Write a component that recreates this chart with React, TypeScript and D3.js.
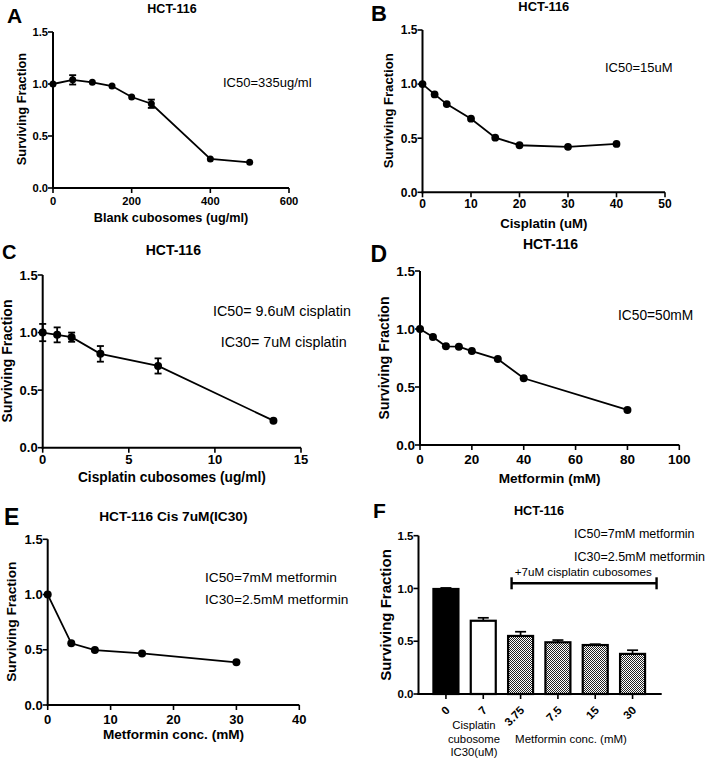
import React from 'react';
import * as d3 from 'd3';

const FONT = "'Liberation Sans', Arial, Helvetica, sans-serif";

// shared y ticks
const yTickVals = [0, 0.5, 1.0, 1.5];

// Panel A
const aDose = [0, 50, 100, 150, 200, 250, 400, 500];
const aSurv = [1.0, 1.04, 1.016, 0.98, 0.875, 0.81, 0.279, 0.247];
const aErr = [0.01, 0.045, 0.028, 0.012, 0.015, 0.04, 0.012, 0.01];
const aTicks = [0, 200, 400, 600];

// Panel B
const bDose = [0, 2.5, 5, 10, 15, 20, 30, 40];
const bSurv = [1.0, 0.905, 0.815, 0.68, 0.505, 0.435, 0.42, 0.447];
const bTicks = [0, 10, 20, 30, 40, 50];

// Panel C
const cDose = [0, 0.84, 1.68, 3.35, 6.7, 13.4];
const cSurv = [1.0, 0.98, 0.96, 0.815, 0.71, 0.235];
const cErr = [0.075, 0.065, 0.04, 0.068, 0.066, 0.033];
const cTicks = [0, 5, 10, 15];

// Panel D
const dDose = [0, 5, 10, 15, 20, 30, 40, 80];
const dSurv = [1.0, 0.931, 0.851, 0.848, 0.81, 0.741, 0.575, 0.302];
const dTicks = [0, 20, 40, 60, 80, 100];

// Panel E
const eDose = [0, 3.75, 7.5, 15, 30];
const eSurv = [1.0, 0.558, 0.497, 0.467, 0.386];
const eTicks = [0, 10, 20, 30, 40];

// Panel F
const fCats = ['0', '7', '3.75', '7.5', '15', '30'];
const fSurv = [0.995, 0.694, 0.55, 0.49, 0.464, 0.38];
const fErr = [0.01, 0.028, 0.04, 0.021, 0.008, 0.035];
const fFill = ['black', 'white', 'check', 'check', 'check', 'check'];

type Annot = { text: string; x: number; y: number; size: number; anchor?: string };

type LineProps = {
  xs: number[];
  ys: number[];
  errs?: number[];
  xMax: number;
  xTicks: number[];
  x0: number;
  x1: number;
  y0: number;
  y1: number;
  tickSize: number;
  xTickY: number;
  xLabel: string;
  xLabelY: number;
  xLabelSize: number;
  yLabelX: number;
  yLabelY: number;
  yLabelSize: number;
  title: string;
  titleX: number;
  titleY: number;
  titleSize: number;
  letter: string;
  letterX: number;
  letterY: number;
  letterSize: number;
  annots: Annot[];
  r: number;
};

const fmtY = d3.format('.1f');
const AX_W = 2;

function YAxis({ x0, y, tickSize }: { x0: number; y: d3.ScaleLinear<number, number>; tickSize: number }) {
  return (
    <g>
      <line x1={x0} x2={x0} y1={y(0) + 1} y2={y(1.5)} stroke="#000" strokeWidth={AX_W} />
      {yTickVals.map((v) => (
        <g key={v}>
          <line x1={x0 - 5} x2={x0} y1={y(v)} y2={y(v)} stroke="#000" strokeWidth={1.6} />
          <text
            x={x0 - 5}
            y={y(v)}
            dy="0.36em"
            textAnchor="end"
            fontWeight="bold"
            fontSize={tickSize}
            fontFamily={FONT}
          >
            {fmtY(v)}
          </text>
        </g>
      ))}
    </g>
  );
}

function LinePanel(p: LineProps) {
  const x = d3.scaleLinear().domain([0, p.xMax]).range([p.x0, p.x1]);
  const y = d3.scaleLinear().domain([0, 1.5]).range([p.y0, p.y1]);
  const line = d3
    .line<number>()
    .x((_, i) => x(p.xs[i]))
    .y((d) => y(d));
  const pxPerUnit = p.y0 - y(1);
  return (
    <g>
      <text x={p.letterX} y={p.letterY} fontSize={p.letterSize} fontWeight="bold" fontFamily={FONT}>
        {p.letter}
      </text>
      <text x={p.titleX} y={p.titleY} fontSize={p.titleSize} fontWeight="bold" textAnchor="middle" fontFamily={FONT}>
        {p.title}
      </text>
      <YAxis x0={p.x0} y={y} tickSize={p.tickSize} />
      <line x1={p.x0 - 1} x2={p.x1} y1={p.y0} y2={p.y0} stroke="#000" strokeWidth={AX_W} />
      {p.xTicks.map((t) => (
        <g key={t}>
          <line x1={x(t)} x2={x(t)} y1={p.y0} y2={p.y0 + 5} stroke="#000" strokeWidth={1.6} />
          <text x={x(t)} y={p.xTickY} textAnchor="middle" fontWeight="bold" fontSize={p.tickSize} fontFamily={FONT}>
            {t}
          </text>
        </g>
      ))}
      <text
        x={(p.x0 + p.x1) / 2}
        y={p.xLabelY}
        textAnchor="middle"
        fontWeight="bold"
        fontSize={p.xLabelSize}
        fontFamily={FONT}
      >
        {p.xLabel}
      </text>
      <text
        transform={`translate(${p.yLabelX},${p.yLabelY}) rotate(-90)`}
        textAnchor="middle"
        fontWeight="bold"
        fontSize={p.yLabelSize}
        fontFamily={FONT}
      >
        Surviving Fraction
      </text>
      <path d={line(p.ys) || ''} fill="none" stroke="#000" strokeWidth={1.8} />
      {p.errs &&
        p.errs.map((e, i) => {
          if (e * pxPerUnit <= p.r + 0.5) return null;
          const cx = x(p.xs[i]);
          const top = y(p.ys[i] + e);
          const bot = y(p.ys[i] - e);
          return (
            <g key={i} stroke="#000" strokeWidth={1.8}>
              <line x1={cx} x2={cx} y1={top} y2={bot} />
              <line x1={cx - 3.5} x2={cx + 3.5} y1={top} y2={top} />
              <line x1={cx - 3.5} x2={cx + 3.5} y1={bot} y2={bot} />
            </g>
          );
        })}
      {p.ys.map((v, i) => (
        <circle key={i} cx={x(p.xs[i])} cy={y(v)} r={p.r} fill="#000" />
      ))}
      {p.annots.map((a, i) => (
        <text
          key={i}
          x={a.x}
          y={a.y}
          fontSize={a.size}
          textAnchor={a.anchor || 'start'}
          fontFamily={FONT}
        >
          {a.text}
        </text>
      ))}
    </g>
  );
}

function BarPanel() {
  const x0 = 418.5;
  const x1 = 661.7;
  const y0 = 694;
  const y1 = 535.7;
  const x = d3.scaleBand<string>().domain(fCats).range([x0, 660]).paddingInner(0.33).paddingOuter(0.4);
  const y = d3.scaleLinear().domain([0, 1.5]).range([y0, y1]);
  const bw = x.bandwidth();
  const bL = (x('3.75') as number) + bw / 2 - 9;
  const bR = (x('30') as number) + bw / 2 + 24;
  return (
    <g>
      <defs>
        <pattern id="chk" width={2} height={2} patternUnits="userSpaceOnUse">
          <rect width={2} height={2} fill="#fff" />
          <rect width={1} height={1} fill="#222" />
          <rect x={1} y={1} width={1} height={1} fill="#222" />
        </pattern>
      </defs>
      <text x={373} y={518} fontSize={21} fontWeight="bold" fontFamily={FONT}>
        F
      </text>
      <text x={539} y={515} fontSize={12.7} fontWeight="bold" textAnchor="middle" fontFamily={FONT}>
        HCT-116
      </text>
      <text x={574} y={537.5} fontSize={12.5} fontFamily={FONT}>
        IC50=7mM metformin
      </text>
      <text x={574} y={560.7} fontSize={12.5} fontFamily={FONT}>
        IC30=2.5mM metformin
      </text>
      <YAxis x0={x0} y={y} tickSize={11.5} />
      {fCats.map((c, i) => {
        const bx = x(c) as number;
        const top = y(fSurv[i]);
        const et = y(fSurv[i] + fErr[i]);
        const cx = bx + bw / 2;
        return (
          <g key={c}>
            <line x1={cx} x2={cx} y1={top} y2={et} stroke="#000" strokeWidth={1.7} />
            <line x1={cx - 5.5} x2={cx + 5.5} y1={et} y2={et} stroke="#000" strokeWidth={1.7} />
            <rect
              x={bx}
              y={top}
              width={bw}
              height={y0 - top}
              fill={fFill[i] === 'check' ? 'url(#chk)' : fFill[i]}
              stroke="#000"
              strokeWidth={2.2}
            />
            <line x1={cx} x2={cx} y1={y0} y2={y0 + 5} stroke="#000" strokeWidth={1.6} />
            <text
              transform={`translate(${cx + 4.5},${711}) rotate(-45)`}
              textAnchor="end"
              fontWeight="bold"
              fontSize={11.5}
              fontFamily={FONT}
            >
              {c}
            </text>
          </g>
        );
      })}
      <line x1={x0 - 1} x2={x1} y1={y0} y2={y0} stroke="#000" strokeWidth={AX_W} />
      <text
        transform={`translate(391,615) rotate(-90)`}
        textAnchor="middle"
        fontWeight="bold"
        fontSize={15}
        fontFamily={FONT}
      >
        Surviving Fraction
      </text>
      <g stroke="#000" strokeWidth={2.4}>
        <line x1={bL} x2={bR} y1={583.3} y2={583.3} />
        <line x1={bL} x2={bL} y1={577.3} y2={589.3} />
        <line x1={bR} x2={bR} y1={577.3} y2={589.3} />
      </g>
      <text x={583.3} y={575.5} textAnchor="middle" fontSize={11.6} fontFamily={FONT}>
        +7uM cisplatin cubosomes
      </text>
      <text x={474} y={729} textAnchor="middle" fontSize={11.3} fontFamily={FONT}>
        Cisplatin
      </text>
      <text x={474} y={743} textAnchor="middle" fontSize={11.3} fontFamily={FONT}>
        cubosome
      </text>
      <text x={474} y={756} textAnchor="middle" fontSize={11.3} fontFamily={FONT}>
        IC30(uM)
      </text>
      <text x={571} y={743} textAnchor="middle" fontSize={11.5} fontFamily={FONT}>
        Metformin conc. (mM)
      </text>
    </g>
  );
}

export default function App() {
  return (
    <div style={{ position: 'absolute', left: 0, top: 0, background: '#fff' }}>
      <svg width={709} height={758} viewBox="0 0 709 758" style={{ display: 'block', background: '#fff' }}>
        <rect width={709} height={758} fill="#fff" />
        <LinePanel
          xs={aDose}
          ys={aSurv}
          errs={aErr}
          xMax={600}
          xTicks={aTicks}
          x0={53}
          x1={289}
          y0={188}
          y1={32}
          tickSize={11.2}
          xTickY={204.5}
          xLabel="Blank cubosomes (ug/ml)"
          xLabelY={222}
          xLabelSize={12.7}
          yLabelX={25.5}
          yLabelY={109}
          yLabelSize={12.8}
          title="HCT-116"
          titleX={172}
          titleY={13.3}
          titleSize={12.5}
          letter="A"
          letterX={7}
          letterY={22.5}
          letterSize={21}
          annots={[{ text: 'IC50=335ug/ml', x: 223, y: 87, size: 13 }]}
          r={3.5}
        />
        <LinePanel
          xs={bDose}
          ys={bSurv}
          xMax={50}
          xTicks={bTicks}
          x0={422.5}
          x1={665}
          y0={192.3}
          y1={30}
          tickSize={12}
          xTickY={208}
          xLabel="Cisplatin (uM)"
          xLabelY={228}
          xLabelSize={13.2}
          yLabelX={393}
          yLabelY={110.8}
          yLabelSize={13.1}
          title="HCT-116"
          titleX={543.8}
          titleY={10.7}
          titleSize={12.9}
          letter="B"
          letterX={371}
          letterY={21}
          letterSize={22}
          annots={[{ text: 'IC50=15uM', x: 605, y: 71.7, size: 13 }]}
          r={3.9}
        />
        <LinePanel
          xs={cDose}
          ys={cSurv}
          errs={cErr}
          xMax={15}
          xTicks={cTicks}
          x0={42.7}
          x1={301}
          y0={447.7}
          y1={275}
          tickSize={13}
          xTickY={463.5}
          xLabel="Cisplatin cubosomes (ug/ml)"
          xLabelY={482}
          xLabelSize={13.75}
          yLabelX={12}
          yLabelY={361}
          yLabelSize={14}
          title="HCT-116"
          titleX={173.3}
          titleY={255}
          titleSize={14}
          letter="C"
          letterX={2}
          letterY={259}
          letterSize={20}
          annots={[
            { text: 'IC50= 9.6uM cisplatin', x: 213, y: 316, size: 14.3 },
            { text: 'IC30= 7uM cisplatin', x: 220.7, y: 346.5, size: 14.3 },
          ]}
          r={4}
        />
        <LinePanel
          xs={dDose}
          ys={dSurv}
          xMax={100}
          xTicks={dTicks}
          x0={420}
          x1={679.3}
          y0={445}
          y1={271}
          tickSize={13.5}
          xTickY={464}
          xLabel="Metformin (mM)"
          xLabelY={483}
          xLabelSize={13.6}
          yLabelX={388.5}
          yLabelY={358}
          yLabelSize={14}
          title="HCT-116"
          titleX={550.5}
          titleY={249}
          titleSize={14}
          letter="D"
          letterX={370.5}
          letterY={261.7}
          letterSize={23}
          annots={[{ text: 'IC50=50mM', x: 618, y: 320, size: 13.75 }]}
          r={4}
        />
        <LinePanel
          xs={eDose}
          ys={eSurv}
          xMax={40}
          xTicks={eTicks}
          x0={47.7}
          x1={299.3}
          y0={705}
          y1={539.3}
          tickSize={13}
          xTickY={724}
          xLabel="Metformin conc. (mM)"
          xLabelY={738.5}
          xLabelSize={13.6}
          yLabelX={16}
          yLabelY={621.7}
          yLabelSize={13.7}
          title="HCT-116 Cis 7uM(IC30)"
          titleX={173.3}
          titleY={520.5}
          titleSize={13.7}
          letter="E"
          letterX={4}
          letterY={525}
          letterSize={23}
          annots={[
            { text: 'IC50=7mM metformin', x: 205, y: 582, size: 13.7 },
            { text: 'IC30=2.5mM metformin', x: 205, y: 604, size: 13.7 },
          ]}
          r={4}
        />
        <BarPanel />
      </svg>
    </div>
  );
}
